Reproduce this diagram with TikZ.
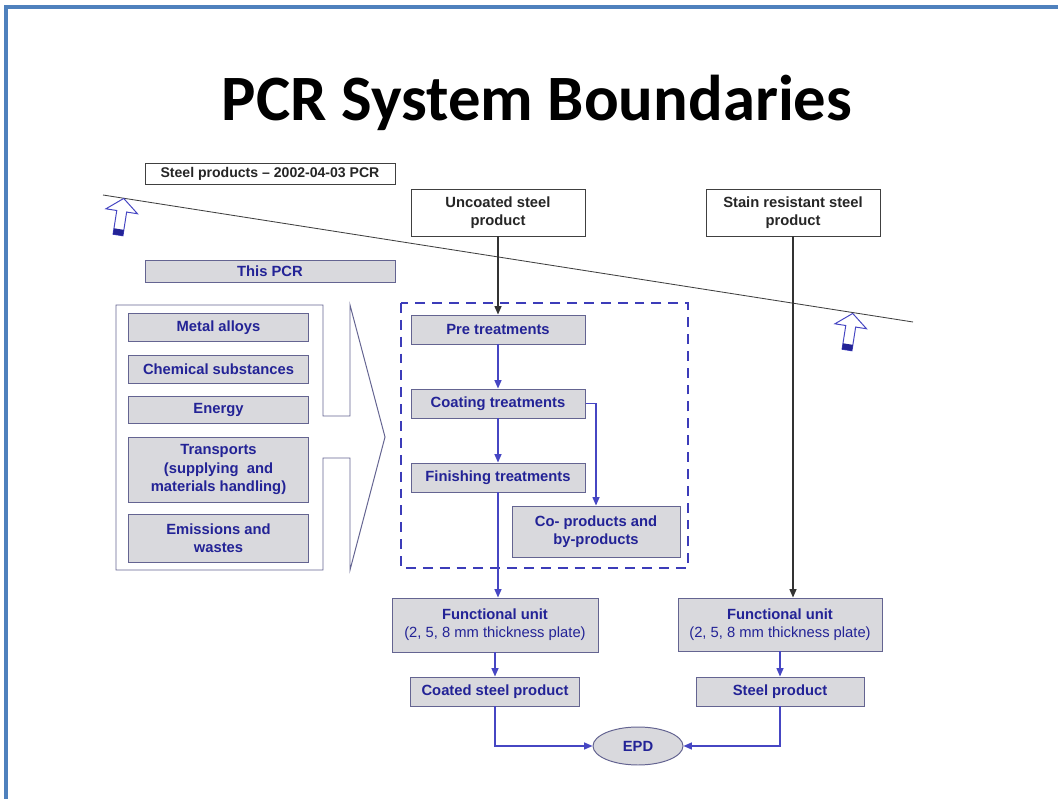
\documentclass[tikz,border=0pt]{standalone}
\usepackage{fontspec}
\setmainfont{Liberation Sans}
\newfontfamily\titlefont{Carlito}
\usepackage{tikz}
\usetikzlibrary{arrows.meta, positioning, shapes.geometric}
\usepackage{xcolor}
\definecolor{frameblue}{RGB}{79, 129, 189}
\definecolor{textblue}{RGB}{35, 35, 150}
\definecolor{boxgray}{RGB}{217, 217, 221}
\definecolor{edgegray}{RGB}{100, 100, 145}
\definecolor{lineblue}{RGB}{70, 70, 195}
\definecolor{dashblue}{RGB}{60, 60, 185}

\tikzset{
  wh/.style 2 args={minimum width=#1*0.025cm, minimum height=#2*0.025cm},
  graybox/.style={draw=edgegray, fill=boxgray, text=textblue, line width=0.7pt, inner sep=0pt,
    align=center, font=\fontsize{10.5}{13}\selectfont\bfseries},
  whitebox/.style={draw=black!75, fill=white, text=black!85, line width=0.7pt, inner sep=0pt,
    align=center, font=\fontsize{10.5}{13}\selectfont\bfseries},
  flow/.style={-{Triangle[length=6pt, width=5pt]}, lineblue, line width=0.9pt},
  feed/.style={-{Triangle[length=6pt, width=5pt]}, black!80, line width=0.9pt},
  bound/.style={draw=lineblue, fill=white, line width=0.7pt},
}

\begin{document}
\begin{tikzpicture}[x=0.025cm, y=-0.025cm, >=Stealth]
    \useasboundingbox (0,0) rectangle (1058,799);
    \draw[frameblue, line width=2.2pt] (6,799) -- (6,7) -- (1058,7);
    \node[font=\titlefont\bfseries\fontsize{46}{50}\selectfont] (title) at (537,103) {PCR System Boundaries};

    \node[whitebox, wh={250}{21}, font=\fontsize{10}{12}\selectfont\bfseries] (oldpcr) at (270,173.5) {Steel products – 2002-04-03 PCR};
    \node[graybox, wh={250}{22}] (thispcr) at (270,271) {This PCR};

    % boundary line and its arrows
    \coordinate (cutL) at (103,195);
    \coordinate (cutR) at (913,322);
    \draw[black!75, line width=0.6pt] (cutL) -- (cutR);
    \foreach \bx/\by in {118/235, 847/350} {
      \begin{scope}[shift={(\bx,\by)}, rotate=-8.9]
        \draw[bound] (-5,0) -- (-5,-24) -- (-16,-24) -- (0,-37) -- (16,-24) -- (5,-24) -- (5,0) -- cycle;
        \fill[textblue] (-5,0) rectangle (5,-6);
      \end{scope}
    }

    % inputs
    \draw[edgegray, line width=0.7pt] (116,305) -- (323,305) -- (323,416) -- (350,416) -- (350,305) -- (385,437)
      -- (350,570) -- (350,458) -- (323,458) -- (323,570) -- (116,570) -- cycle;
    \node[graybox, wh={180}{28}] (alloys) at (218.5,327.5) {Metal alloys};
    \node[graybox, wh={180}{28}] (chem) at (218.5,369) {Chemical substances};
    \node[graybox, wh={180}{27}] (energy) at (218.5,410) {Energy};
    \node[graybox, wh={180}{65}] (transp) at (218.5,469.5) {Transports\\(supplying\ \ and\\materials handling)};
    \node[graybox, wh={180}{48}] (emis) at (218.5,538) {Emissions and\\wastes};

    % coating line
    \draw[dashblue, line width=2pt, dash pattern=on 7pt off 5pt] (401,303) rectangle (688,568);
    \node[whitebox, wh={174}{47}] (uncoated) at (498,212.5) {Uncoated steel\\product};
    \node[graybox, wh={174}{29}] (pre) at (498,329.5) {Pre treatments};
    \node[graybox, wh={174}{29}] (coating) at (498,403.5) {Coating treatments};
    \node[graybox, wh={174}{29}] (finish) at (498,477.5) {Finishing treatments};
    \node[graybox, wh={168}{51}] (coprod) at (596,531.5) {Co- products and\\by-products};
    \node[graybox, wh={206}{54}] (fu1) at (495,625) {Functional unit\\{\mdseries (2, 5, 8 mm thickness plate)}};
    \node[graybox, wh={169}{29}] (coated) at (495,691.5) {Coated steel product};

    % stainless line
    \node[whitebox, wh={174}{47}] (stain) at (793,212.5) {Stain resistant steel\\product};
    \node[graybox, wh={204}{53}] (fu2) at (780,624.5) {Functional unit\\{\mdseries (2, 5, 8 mm thickness plate)}};
    \node[graybox, wh={168}{29}] (steel) at (780,691.5) {Steel product};

    \node[graybox, ellipse, wh={90}{38}] (epd) at (638,746) {EPD};

    \draw[feed] (uncoated) -- (pre);
    \draw[flow] (pre) -- (coating);
    \draw[flow] (coating) -- (finish);
    \draw[flow] (coating.east) -| (coprod);
    \draw[flow] (finish) -- (finish.south |- fu1.north);
    \draw[flow] (fu1) -- (coated);
    \draw[flow] (coated) |- (epd);
    \draw[feed] (stain) -- (stain.south |- fu2.north);
    \draw[flow] (fu2) -- (steel);
    \draw[flow] (steel) |- (epd);
\end{tikzpicture}
\end{document}
